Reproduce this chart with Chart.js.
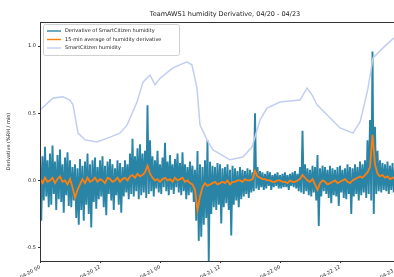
<!DOCTYPE html>
<html>
<head>
<meta charset="utf-8">
<script src="https://cdn.jsdelivr.net/npm/chart.js@4/dist/chart.umd.min.js"></script>
<style>
  html, body { margin: 0; padding: 0; background: #fff; overflow: hidden; }
  #c { display: block; }
</style>
</head>
<body>
<canvas id="c" width="420" height="277"></canvas>
<script>
var titleText = 'TeamAWS1 humidity Derivative, 04/20 - 04/23';
var yLabel = 'Derivative (%RH / min)';
var legendLabels = ['Derivative of SmartCitizen humidity', '15-min average of humidity derivative', 'SmartCitizen humidity'];

// hours since 04/20 00:00
var xTickHours = [0, 12, 24, 36, 48, 60, 72];
var xTickLabels = ['04-20 00', '04-20 12', '04-21 00', '04-21 12', '04-22 00', '04-22 12', '04-23 00'];
var yTickValues = [-0.5, 0.0, 0.5, 1.0];

// derivative, one sample every 15 min
var derivStep = 0.25;
var derivative = [
  0.22, -0.30, 0.18, -0.15,
  0.25, -0.12, 0.15, -0.20,
  0.20, -0.18, 0.26, -0.10,
  0.14, -0.22, 0.19, -0.14,
  0.23, -0.16, 0.12, -0.24,
  0.17, -0.11, 0.21, -0.19,
  0.15, -0.20, 0.10, -0.15,
  0.12, -0.28, 0.09, -0.33,
  0.16, -0.22, 0.11, -0.30,
  0.14, -0.18, 0.20, -0.25,
  0.12, -0.35, 0.15, -0.16,
  0.17, -0.21, 0.10, -0.14,
  0.15, -0.12, 0.18, -0.20,
  0.11, -0.26, 0.14, -0.10,
  0.16, -0.15, 0.12, -0.22,
  0.09, -0.11, 0.15, -0.18,
  0.13, -0.24, 0.10, -0.12,
  0.15, -0.09, 0.12, -0.14,
  0.20, -0.10, 0.31, -0.12,
  0.18, -0.08, 0.24, -0.14,
  0.27, -0.11, 0.20, -0.09,
  0.22, -0.13, 0.56, -0.10,
  0.30, -0.08, 0.18, -0.12,
  0.15, -0.06, 0.22, -0.09,
  0.12, -0.10, 0.17, -0.05,
  0.28, -0.08, 0.14, -0.11,
  0.19, -0.07, 0.12, -0.10,
  0.16, -0.05, 0.20, -0.09,
  0.13, -0.11, 0.21, -0.08,
  0.12, -0.14, 0.10, -0.11,
  0.14, -0.09, 0.11, -0.16,
  0.08, -0.30, 0.22, -0.45,
  0.12, -0.42, 0.10, -0.33,
  0.15, -0.28, 0.30, -0.60,
  0.14, -0.25, 0.11, -0.20,
  0.10, -0.22, 0.13, -0.18,
  0.12, -0.32, 0.09, -0.20,
  0.10, -0.17, 0.12, -0.22,
  0.08, -0.41, 0.11, -0.18,
  0.09, -0.15, 0.07, -0.20,
  0.10, -0.14, 0.08, -0.12,
  0.07, -0.10, 0.09, -0.13,
  0.08, -0.09, 0.06, -0.08,
  0.50, -0.06, 0.10, -0.07,
  0.07, -0.05, 0.06, -0.07,
  0.05, -0.06, 0.07, -0.04,
  0.06, -0.07, 0.04, -0.05,
  0.05, -0.04, 0.06, -0.06,
  0.04, -0.06, 0.05, -0.05,
  0.06, -0.05, 0.04, -0.07,
  0.05, -0.04, 0.06, -0.05,
  0.07, -0.06, 0.05, -0.08,
  0.10, -0.09, 0.37, -0.10,
  0.12, -0.08, 0.09, -0.11,
  0.08, -0.12, 0.11, -0.09,
  0.10, -0.15, 0.19, -0.34,
  0.09, -0.12, 0.11, -0.08,
  0.10, -0.10, 0.08, -0.13,
  0.11, -0.17, 0.09, -0.11,
  0.08, -0.12, 0.10, -0.19,
  0.11, -0.09, 0.08, -0.13,
  0.09, -0.14, 0.12, -0.10,
  0.10, -0.25, 0.09, -0.12,
  0.12, -0.10, 0.10, -0.15,
  0.14, -0.11, 0.12, -0.09,
  0.15, -0.13, 0.30, -0.10,
  0.45, -0.15, 0.96, -0.25,
  0.40, -0.10, 0.22, -0.08,
  0.15, -0.09, 0.13, -0.07,
  0.12, -0.08, 0.14, -0.10,
  0.11, -0.07, 0.13, -0.09,
  0.10, -0.08, 0.12, -0.06,
  0.09
];

// 15-min average, one value every 30 min
var avgStep = 0.5;
var derivAvg = [
  0.01, -0.02, 0.02, -0.01, 0.00, 0.02, -0.02, 0.01,
  0.03, -0.01, 0.00, -0.03, 0.01, -0.05, -0.13, -0.07,
  -0.03, 0.01, -0.02, 0.02, -0.01, 0.00, 0.02, -0.01,
  0.01, 0.00, -0.02, 0.02, 0.01, -0.01, 0.00, 0.02,
  -0.01, 0.01, 0.02, 0.00, 0.03, 0.04, 0.02, 0.05,
  0.03, 0.04, 0.06, 0.11, 0.05, 0.02, 0.00, 0.01,
  -0.01, 0.01, 0.02, 0.00, 0.01, -0.01, 0.02, 0.00,
  0.01, 0.02, -0.01, 0.00, -0.02, -0.03, -0.07, -0.22,
  -0.12, -0.05, -0.02, -0.04, -0.03, -0.02, -0.01, -0.03,
  -0.02, -0.01, -0.02, 0.00, -0.03, -0.01, -0.01, 0.00,
  0.00, -0.01, 0.01, 0.00, 0.00, 0.01, 0.07, 0.03,
  0.02, 0.01, 0.01, 0.00, 0.00, -0.01, -0.01, 0.00,
  0.00, -0.01, -0.01, -0.02, 0.00, -0.01, -0.01, 0.00,
  0.01, 0.04, 0.02, 0.00, -0.01, 0.01, -0.03, -0.07,
  -0.02, 0.00, -0.01, -0.03, -0.02, -0.01, 0.00, -0.02,
  -0.01, 0.00, 0.01, -0.01, -0.02, 0.00, 0.01, 0.02,
  0.03, 0.02, 0.04, 0.06, 0.10, 0.34, 0.12, 0.05,
  0.03, 0.04, 0.02, 0.03, 0.01, 0.02, 0.02, 0.01,
  0.02
];

// humidity (%RH), right axis (hidden)
var humidityHours = [0, 2.6, 4.6, 6, 6.6, 7.6, 9, 11.4, 14, 16, 17.4, 19.4, 20.6, 22, 23, 24, 26.6, 29.4, 30.4, 31.4, 32, 33.4, 34.6, 38, 40.6, 42.4, 44, 45.4, 48, 52, 53.4, 54.4, 55.4, 57.4, 60, 62.6, 64, 64.6, 65.6, 66.6, 68.6, 70.8, 74];
var humidity = [57.9, 60.9, 61.2, 60.4, 59.2, 52.1, 50.4, 49.9, 51.1, 52.1, 54.1, 59.9, 64.9, 66.7, 64.2, 65.9, 68.5, 70.0, 69.2, 63.4, 54.1, 50.4, 47.9, 45.4, 46.1, 48.6, 55.4, 58.4, 59.9, 60.4, 63.4, 61.7, 59.2, 56.7, 53.4, 52.1, 54.9, 57.9, 63.4, 71.0, 73.5, 76.0, 77.5];

var derivColor = '#2a84a6';
var avgColor = '#ff7f0e';
var humColor = '#c2cdf2';

var derivPoints = derivative.map(function (v, i) { return { x: i * derivStep, y: v }; });
var avgPoints = derivAvg.map(function (v, i) { return { x: i * avgStep, y: v }; });
var humPoints = humidity.map(function (v, i) { return { x: humidityHours[i], y: v }; });

var fontFamily = '"DejaVu Sans", sans-serif';

var framePlugin = {
  id: 'frame',
  afterDraw: function (chart) {
    var ctx = chart.ctx;
    var a = chart.chartArea;
    ctx.save();
    ctx.strokeStyle = '#333';
    ctx.lineWidth = 1;
    ctx.strokeRect(Math.round(a.left) + 0.5, Math.round(a.top) + 0.5, a.right - a.left, a.bottom - a.top);

    ctx.fillStyle = '#222';
    ctx.textAlign = 'center';
    ctx.textBaseline = 'middle';
    ctx.font = '6.5px ' + fontFamily;
    ctx.fillText(titleText, (a.left + a.right) / 2, 14);

    // legend box
    var bx = 43, by = 24, bw = 136, bh = 31;
    ctx.fillStyle = 'rgba(255,255,255,0.8)';
    ctx.strokeStyle = '#d0d0d0';
    ctx.beginPath();
    ctx.roundRect(bx + 0.5, by + 0.5, bw, bh, 2);
    ctx.fill();
    ctx.stroke();
    var colors = [derivColor, avgColor, humColor];
    ctx.font = '5px ' + fontFamily;
    ctx.textAlign = 'left';
    for (var i = 0; i < legendLabels.length; i++) {
      var ly = by + 7 + i * 8.5;
      ctx.strokeStyle = colors[i];
      ctx.lineWidth = 1.4;
      ctx.beginPath();
      ctx.moveTo(bx + 4, ly);
      ctx.lineTo(bx + 18, ly);
      ctx.stroke();
      ctx.fillStyle = '#222';
      ctx.fillText(legendLabels[i], bx + 22, ly);
    }

    // y axis title
    ctx.translate(9, (a.top + a.bottom) / 2);
    ctx.rotate(-Math.PI / 2);
    ctx.textAlign = 'center';
    ctx.font = '5px ' + fontFamily;
    ctx.fillText(yLabel, 0, 0);
    ctx.restore();
  }
};

new Chart(document.getElementById('c').getContext('2d'), {
  type: 'line',
  data: {
    datasets: [{
      label: legendLabels[0],
      data: derivPoints,
      borderColor: derivColor,
      borderWidth: 1.9,
      pointRadius: 0,
      order: 2,
      yAxisID: 'y'
    }, {
      label: legendLabels[1],
      data: avgPoints,
      borderColor: avgColor,
      borderWidth: 1.8,
      pointRadius: 0,
      order: 1,
      yAxisID: 'y'
    }, {
      label: legendLabels[2],
      data: humPoints,
      borderColor: humColor,
      borderWidth: 1.5,
      pointRadius: 0,
      order: 0,
      yAxisID: 'y2'
    }]
  },
  options: {
    responsive: false,
    animation: false,
    layout: { padding: { top: 22, right: 10, left: 0, bottom: 0 } },
    plugins: {
      legend: { display: false },
      title: { display: false },
      tooltip: { enabled: false }
    },
    scales: {
      x: {
        type: 'linear',
        min: 0,
        max: 74,
        afterBuildTicks: function (scale) {
          scale.ticks = xTickHours.map(function (h) { return { value: h }; });
        },
        afterFit: function (scale) { scale.height = 16; },
        border: { display: false },
        grid: { display: true, drawOnChartArea: false, drawTicks: true, tickLength: 2, color: '#333' },
        ticks: {
          autoSkip: false,
          minRotation: 30,
          maxRotation: 30,
          padding: 1,
          color: '#222',
          font: { family: fontFamily, size: 5 },
          callback: function (v) {
            var i = xTickHours.indexOf(v);
            return i >= 0 ? xTickLabels[i] : '';
          }
        }
      },
      y: {
        type: 'linear',
        position: 'left',
        min: -0.6,
        max: 1.18,
        afterBuildTicks: function (scale) {
          scale.ticks = yTickValues.map(function (v) { return { value: v }; });
        },
        afterFit: function (scale) { scale.width = 40; },
        border: { display: false },
        grid: { display: true, drawOnChartArea: false, drawTicks: true, tickLength: 2, color: '#333' },
        ticks: {
          padding: 2,
          color: '#222',
          font: { family: fontFamily, size: 5 },
          callback: function (v) { return v.toFixed(1); }
        }
      },
      y2: {
        type: 'linear',
        position: 'right',
        display: false,
        min: 20,
        max: 80
      }
    }
  },
  plugins: [framePlugin]
});
</script>
</body>
</html>
